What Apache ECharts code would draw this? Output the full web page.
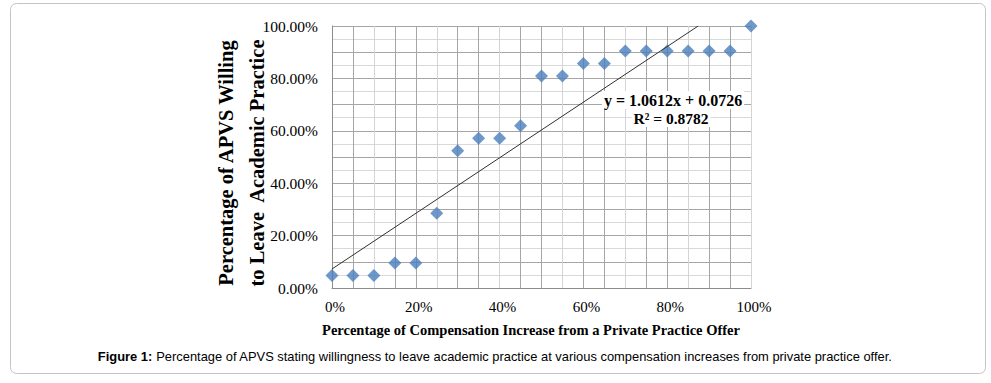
<!DOCTYPE html>
<html>
<head>
<meta charset="utf-8">
<script src="https://cdn.jsdelivr.net/npm/echarts@6/dist/echarts.min.js"></script>
<style>
  html, body { margin: 0; padding: 0; background: #fff; }
  #chart { width: 991px; height: 383px; }
</style>
</head>
<body>
<div id="chart"></div>
<script>
// ---- data ----
const compIncrease = [0, 0.05, 0.10, 0.15, 0.20, 0.25, 0.30, 0.35, 0.40, 0.45, 0.50,
                      0.55, 0.60, 0.65, 0.70, 0.75, 0.80, 0.85, 0.90, 0.95, 1.00];
const willingPct   = [0.0476, 0.0476, 0.0476, 0.0952, 0.0952, 0.2857, 0.5238, 0.5714, 0.5714, 0.6190, 0.8095,
                      0.8095, 0.8571, 0.8571, 0.9048, 0.9048, 0.9048, 0.9048, 0.9048, 0.9048, 1.0000];
const trendSlope = 1.0612;
const trendIntercept = 0.0726;
const trendR2 = 0.8782;
const xTickValues = [0, 0.2, 0.4, 0.6, 0.8, 1.0];
const xTickLabels = ['0%', '20%', '40%', '60%', '80%', '100%'];
const yTickValues = [0, 0.2, 0.4, 0.6, 0.8, 1.0];
const yTickLabels = ['0.00%', '20.00%', '40.00%', '60.00%', '80.00%', '100.00%'];
const yTitleLines = ['Percentage of APVS Willing', 'to Leave  Academic Practice'];
const xTitle = 'Percentage of Compensation Increase from a Private Practice Offer';
const captionBold = 'Figure 1:';
const captionText = ' Percentage of APVS stating willingness to leave academic practice at various compensation increases from private practice offer.';

// ---- build ----
const points = compIncrease.map((x, i) => [x, willingPct[i]]);
const trendEndX = (1 - trendIntercept) / trendSlope;
const trendPoints = [[0, trendIntercept], [trendEndX, 1]];

function tickLabel(values, labels, v) {
  for (let i = 0; i < values.length; i++) {
    if (Math.abs(values[i] - v) < 1e-6) return labels[i];
  }
  return '';
}

const serif = "'Liberation Serif', 'Times New Roman', serif";
const sans = "'Liberation Sans', Arial, sans-serif";

const chart = echarts.init(document.getElementById('chart'), null, { renderer: 'svg' });
chart.setOption({
  animation: false,
  backgroundColor: '#ffffff',
  grid: { left: 332, right: 240, top: 26, bottom: 95, containLabel: false },
  xAxis: {
    type: 'value', min: 0, max: 1, interval: 0.05,
    axisLine: { show: true, lineStyle: { color: '#8c8c8c', width: 1 } },
    axisTick: { show: false },
    axisLabel: {
      formatter: v => tickLabel(xTickValues, xTickLabels, v),
      fontFamily: serif, fontSize: 15, color: '#000', margin: 11,
      padding: [0, 0, 0, 6], showMinLabel: true, showMaxLabel: true
    },
    splitLine: { show: true, lineStyle: { color: ['#a6a6a6', '#a6a6a6', '#d4d4d4'], width: 1 } }
  },
  yAxis: {
    type: 'value', min: 0, max: 1, interval: 0.05,
    axisLine: { show: true, lineStyle: { color: '#8c8c8c', width: 1 } },
    axisTick: { show: false },
    axisLabel: {
      formatter: v => tickLabel(yTickValues, yTickLabels, v),
      fontFamily: serif, fontSize: 15.5, color: '#000', margin: 14,
      showMinLabel: true, showMaxLabel: true
    },
    splitLine: { show: true, lineStyle: { color: ['#a6a6a6', '#d9d9d9'], width: 1 } }
  },
  series: [
    {
      type: 'line', data: trendPoints, showSymbol: false, symbol: 'none',
      lineStyle: { color: '#303030', width: 1 }, z: 3, silent: true
    },
    {
      type: 'scatter', data: points, symbol: 'diamond', symbolSize: 13,
      itemStyle: { color: '#4a7ebb' }, z: 2
    }
  ],
  graphic: [
    {
      type: 'rect', left: 10, top: 3, z: -10,
      shape: { width: 975, height: 370, r: 6 },
      style: { fill: '#fff', stroke: '#c4c4c4', lineWidth: 1 }
    },
    {
      type: 'text', x: 226, y: 163, rotation: Math.PI / 2,
      style: { text: yTitleLines[0], font: 'bold 20.5px ' + serif, fill: '#000', align: 'center', verticalAlign: 'middle' }
    },
    {
      type: 'text', x: 257, y: 163, rotation: Math.PI / 2,
      style: { text: yTitleLines[1], font: 'bold 20.5px ' + serif, fill: '#000', align: 'center', verticalAlign: 'middle' }
    },
    {
      type: 'text', x: 531, y: 330,
      style: { text: xTitle, font: 'bold 14.5px ' + serif, fill: '#000', align: 'center', verticalAlign: 'middle' }
    },
    {
      type: 'text', x: 673, y: 100, z: 10,
      style: {
        text: 'y = ' + trendSlope.toFixed(4) + 'x + ' + trendIntercept.toFixed(4),
        font: 'bold 16px ' + serif, fill: '#000', align: 'center', verticalAlign: 'middle',
        backgroundColor: '#fff', padding: [1, 2, 1, 2]
      }
    },
    {
      type: 'text', x: 671, y: 118, z: 10,
      style: {
        text: 'R² = ' + trendR2.toFixed(4),
        font: 'bold 15.5px ' + serif, fill: '#000', align: 'center', verticalAlign: 'middle',
        backgroundColor: '#fff', padding: [1, 2, 1, 2]
      }
    },
    {
      type: 'text', x: 495, y: 356,
      style: {
        text: '{b|' + captionBold + '}{n|' + captionText + '}',
        align: 'center', verticalAlign: 'middle',
        rich: {
          b: { font: 'bold 12.9px ' + sans, fill: '#000' },
          n: { font: '12.9px ' + sans, fill: '#000' }
        }
      }
    }
  ]
});
</script>
</body>
</html>
